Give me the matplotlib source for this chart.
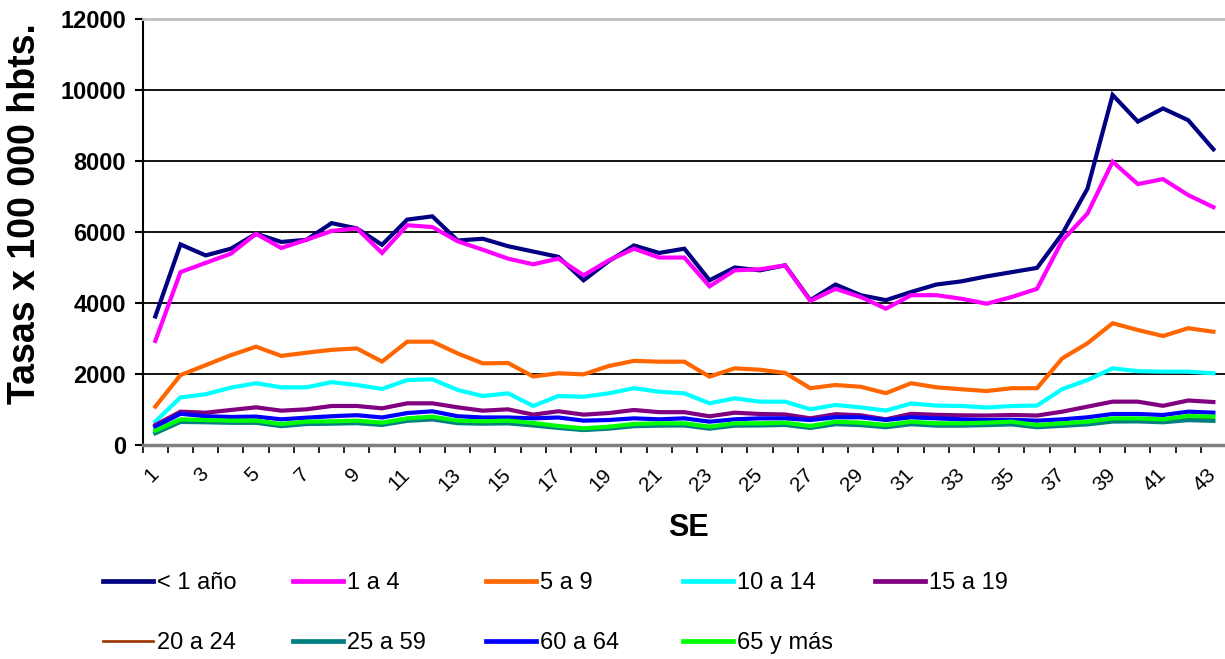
import numpy as np
import matplotlib
matplotlib.use("Agg")
import matplotlib.pyplot as plt
from matplotlib.lines import Line2D

plt.rcParams['font.family'] = ['Liberation Sans', 'DejaVu Sans']

weeks = list(range(1, 44))
series_names = ["< 1 año", "1 a 4", "5 a 9", "10 a 14", "15 a 19",
                "20 a 24", "25 a 59", "60 a 64", "65 y más"]

menor_1 = [3620, 5650, 5340, 5530, 5950, 5720, 5780, 6250, 6100, 5640, 6350, 6440, 5760, 5810, 5600,
           5450, 5300, 4640, 5180, 5620, 5410, 5530, 4640, 5000, 4920, 5060, 4080, 4520, 4220, 4080,
           4310, 4520, 4610, 4750, 4870, 4990, 5950, 7220, 9860, 9110, 9480, 9150, 8330]
de_1_4 = [2930, 4870, 5130, 5390, 5950, 5550, 5780, 6030, 6100, 5410, 6190, 6140, 5740, 5500, 5250,
          5090, 5250, 4780, 5200, 5530, 5280, 5280, 4470, 4920, 4950, 5060, 4060, 4400, 4170, 3840,
          4220, 4220, 4120, 3980, 4170, 4400, 5760, 6520, 7980, 7350, 7490, 7040, 6700]
de_5_9 = [1080, 1970, 2250, 2530, 2770, 2510, 2600, 2680, 2720, 2350, 2910, 2910, 2580, 2300, 2310,
          1930, 2020, 1990, 2225, 2370, 2347, 2347, 1925, 2160, 2120, 2030, 1600, 1690, 1640, 1460,
          1740, 1625, 1570, 1520, 1600, 1600, 2440, 2865, 3430, 3240, 3070, 3290, 3190]
de_10_14 = [660, 1340, 1430, 1615, 1740, 1625, 1625, 1770, 1690, 1580, 1830, 1850, 1550, 1380, 1456,
            1100, 1380, 1360, 1456, 1600, 1500, 1456, 1175, 1315, 1220, 1220, 1005, 1127, 1060, 970,
            1170, 1110, 1099, 1055, 1099, 1110, 1575, 1830, 2160, 2080, 2066, 2066, 2020]
de_15_19 = [563, 939, 910, 986, 1061, 967, 1005, 1099, 1099, 1033, 1174, 1174, 1061, 967, 1005,
            855, 950, 855, 900, 986, 925, 925, 808, 910, 873, 860, 751, 868, 836, 723,
            878, 850, 836, 830, 845, 830, 939, 1080, 1221, 1221, 1104, 1254, 1210]
de_20_24 = [370, 690, 670, 655, 650, 560, 620, 630, 650, 595, 715, 760, 650, 630, 645,
            585, 505, 445, 490, 560, 580, 580, 490, 580, 580, 595, 505, 620, 595, 530,
            620, 580, 580, 595, 620, 530, 575, 620, 710, 710, 685, 765, 745]
de_25_59 = [330, 650, 640, 625, 625, 530, 590, 600, 615, 565, 680, 720, 615, 600, 610,
            550, 480, 420, 460, 530, 545, 550, 460, 545, 550, 565, 480, 585, 560, 500,
            585, 545, 545, 560, 580, 500, 540, 580, 660, 665, 640, 700, 680]
de_60_64 = [516, 880, 810, 790, 800, 723, 770, 810, 840, 775, 900, 950, 810, 775, 775,
            751, 775, 686, 704, 751, 723, 751, 657, 723, 751, 751, 704, 780, 780, 704,
            780, 751, 723, 704, 710, 686, 723, 780, 873, 873, 845, 939, 911]
de_65_mas = [404, 723, 704, 686, 686, 592, 657, 667, 686, 629, 751, 798, 686, 667, 686,
             620, 535, 470, 516, 592, 611, 611, 516, 611, 611, 629, 535, 657, 629, 563,
             657, 611, 611, 629, 657, 563, 611, 657, 751, 751, 723, 817, 798]

all_series = [menor_1, de_1_4, de_5_9, de_10_14, de_15_19, de_20_24, de_25_59, de_60_64, de_65_mas]
colors = ["#000080", "#FF00FF", "#FF6600", "#00FFFF", "#800080",
          "#993300", "#008080", "#0000FF", "#00FF00"]
widths = [3.0, 3.0, 3.0, 3.0, 3.0, 1.5, 3.0, 3.0, 3.0]

W, H = 1225, 659
fig = plt.figure(figsize=(W / 100, H / 100), dpi=100)
ax = fig.add_axes([142.7 / W, 1 - 445 / H, (1226 - 142.7) / W, (445 - 19) / H])

handles = []
for vals, c, lw, name in zip(all_series, colors, widths, series_names):
    h, = ax.plot(weeks, vals, color=c, lw=lw, solid_joinstyle='miter', label=name)
    handles.append(h)

ax.set_xlim(0.5, 43.5)
ax.set_ylim(0, 12000)
ax.set_yticks(range(0, 12001, 2000))
ax.set_yticklabels([str(v) for v in range(0, 12001, 2000)], fontsize=17, fontweight='bold')
ax.yaxis.grid(True, color='black', lw=1.3)
ax.set_axisbelow(True)

odd = weeks[::2]
ax.set_xticks(odd)
ax.set_xticklabels([str(v) for v in odd], rotation=45, ha='right', va='center',
                   rotation_mode='anchor', fontsize=15)
ax.set_xticks(np.arange(0.5, 44.0, 1.0), minor=True)
ax.tick_params(axis='x', which='major', length=0, pad=19)
ax.tick_params(axis='x', which='minor', length=6, width=1.2, direction='out', color='black')
ax.tick_params(axis='y', length=6, width=1.5, direction='out', pad=6)

ax.spines['right'].set_visible(False)
ax.spines['top'].set_color('#c0c0c0')
ax.spines['top'].set_linewidth(2)
ax.spines['left'].set_color('black')
ax.spines['left'].set_linewidth(1.5)
ax.spines['bottom'].set_color('#808080')
ax.spines['bottom'].set_linewidth(2.5)

fig.text(25 / W, 1 - 214 / H, 'Tasas x 100 000 hbts.', rotation=90, ha='center', va='center',
         fontsize=27, fontweight='bold')
fig.text(688 / W, 1 - 528 / H, 'SE', ha='center', va='center', fontsize=22, fontweight='bold')

col_x = [103, 293, 486, 683, 875, 103, 293, 486, 683]
row_y = [583, 583, 583, 583, 583, 643, 643, 643, 643]
for h, name, xx, yy in zip(handles, series_names, col_x, row_y):
    proxy = Line2D([], [], color=h.get_color(), lw=h.get_linewidth() + 0.4)
    fig.legend([proxy], [name], loc='center left', bbox_to_anchor=(xx / W, 1 - yy / H),
               frameon=False, borderpad=0, borderaxespad=0, handlelength=2.1,
               handletextpad=0.2, fontsize=17)

fig.savefig('out.png', dpi=100)
